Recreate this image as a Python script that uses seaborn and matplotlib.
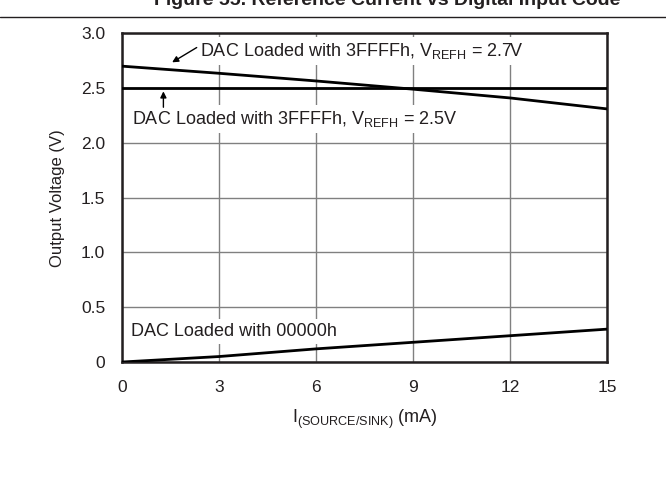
import matplotlib
matplotlib.use("Agg")
import matplotlib.pyplot as plt
from matplotlib.lines import Line2D
import pandas as pd
import seaborn as sns

# values
current_ma = [0, 3, 6, 9, 12, 15]
vout_27 = [2.70, 2.635, 2.565, 2.49, 2.41, 2.31]
vout_25 = [2.50, 2.50, 2.50, 2.50, 2.50, 2.50]
vout_zero = [0.0, 0.05, 0.12, 0.18, 0.24, 0.30]

x_ticks = [0, 3, 6, 9, 12, 15]
y_ticks = [0, 0.5, 1.0, 1.5, 2.0, 2.5, 3.0]
y_tick_labels = ["0", "0.5", "1.0", "1.5", "2.0", "2.5", "3.0"]

df = pd.DataFrame({
    "current": current_ma * 3,
    "vout": vout_27 + vout_25 + vout_zero,
    "series": ["2.7V"] * 6 + ["2.5V"] * 6 + ["0"] * 6,
})

sns.set_style("white")
plt.rcParams["font.family"] = ["Liberation Sans", "DejaVu Sans"]
plt.rcParams["mathtext.fontset"] = "custom"
plt.rcParams["mathtext.rm"] = "Liberation Sans"

ink = "#231f20"
fig = plt.figure(figsize=(6.66, 4.86), dpi=100)
ax = fig.add_axes([0.1832, 0.2551, 0.7282, 0.6764])

sns.lineplot(data=df, x="current", y="vout", units="series", estimator=None,
             color="black", linewidth=2.0, ax=ax, legend=False, zorder=3)

ax.set_xlim(0, 15)
ax.set_ylim(0, 3.0)
ax.set_xticks(x_ticks)
ax.set_yticks(y_ticks)
ax.set_yticklabels(y_tick_labels)
ax.tick_params(length=0, labelsize=12.5, colors=ink)
ax.tick_params(axis="y", pad=12)
ax.tick_params(axis="x", pad=13)
ax.grid(True, color="#808080", linewidth=1.0)
ax.set_axisbelow(True)
for sp in ax.spines.values():
    sp.set_linewidth(1.8)
    sp.set_color(ink)

ax.set_xlabel(r"I$_{\mathregular{(SOURCE/SINK)}}$ (mA)", fontsize=13, color=ink)
ax.set_ylabel("Output Voltage (V)", fontsize=12, color=ink)
ax.xaxis.set_label_coords(0.5, -0.14)
ax.yaxis.set_label_coords(-0.118, 0.5)

box = dict(facecolor="white", edgecolor="none", pad=3)
ax.text(2.41, 2.84, r"DAC Loaded with 3FFFFh, V$_{\mathregular{REFH}}$ = 2.7V",
        fontsize=13, va="center", ha="left", bbox=box, zorder=4, color=ink)
ax.text(0.30, 2.215, r"DAC Loaded with 3FFFFh, V$_{\mathregular{REFH}}$ = 2.5V",
        fontsize=13, va="center", ha="left", bbox=box, zorder=4, color=ink)
ax.text(0.28, 0.277, "DAC Loaded with 00000h",
        fontsize=13, va="center", ha="left", bbox=box, zorder=4, color=ink)

arrow = dict(arrowstyle="-|>", color="black", lw=1.0, mutation_scale=9, shrinkA=0, shrinkB=0)
ax.annotate("", xy=(1.55, 2.735), xytext=(2.31, 2.87), arrowprops=arrow, zorder=5)
ax.annotate("", xy=(1.28, 2.47), xytext=(1.28, 2.325), arrowprops=arrow, zorder=5)

# cropped page title and rule above the chart
fig.text(620 / 666, 1 - 5 / 486, "Figure 55. Reference Current vs Digital Input Code",
         ha="right", va="baseline", fontsize=14, fontweight="bold", color=ink)
fig.add_artist(Line2D([0, 1], [1 - 17 / 486, 1 - 17 / 486], transform=fig.transFigure,
                      color=ink, linewidth=1.0))

fig.savefig("out.png", dpi=100)
